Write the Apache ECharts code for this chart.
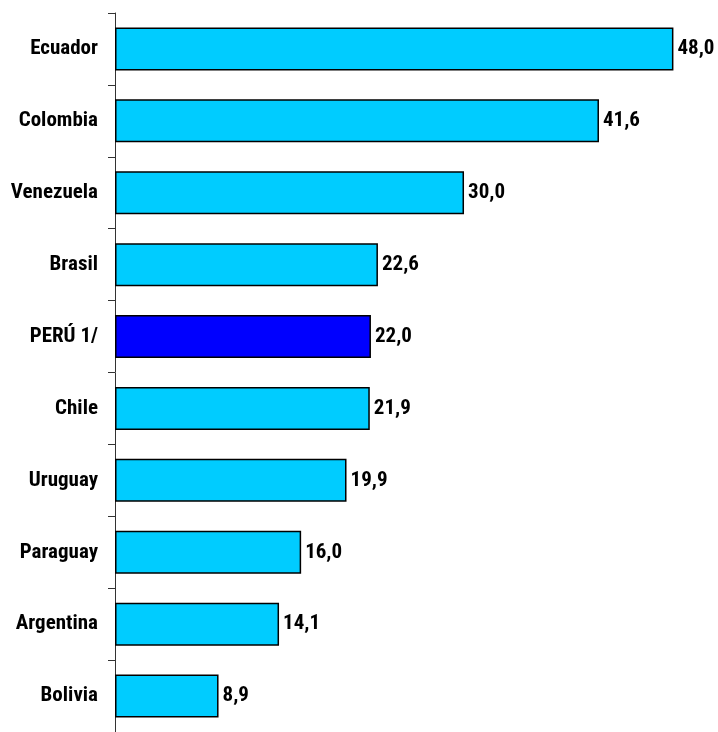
<!DOCTYPE html>
<html>
<head>
<meta charset="utf-8">
<script src="https://cdn.jsdelivr.net/npm/echarts@6/dist/echarts.min.js"></script>
<style>
  html, body { margin: 0; padding: 0; background: #fff; }
  #chart { width: 718px; height: 732px; }
</style>
</head>
<body>
<div id="chart"></div>
<script>
const countries = ['Ecuador', 'Colombia', 'Venezuela', 'Brasil', 'PERÚ 1/', 'Chile', 'Uruguay', 'Paraguay', 'Argentina', 'Bolivia']
const values = [48.0, 41.6, 30.0, 22.6, 22.0, 21.9, 19.9, 16.0, 14.1, 8.9]
const highlight = 'PERÚ 1/'

const font = "'Roboto Condensed', 'Liberation Sans Narrow', Arial, sans-serif"

const chart = echarts.init(document.getElementById('chart'))

const option = {
    animation: false,
    grid: {
        left: 115,
        top: 13,
        bottom: -7,
        width: 581.7,
        containLabel: false
    },
    xAxis: {
        type: 'value',
        min: 0,
        max: 50,
        show: false
    },
    yAxis: {
        type: 'category',
        inverse: true,
        data: countries,
        axisLine: { lineStyle: { color: '#333', width: 1 } },
        axisTick: { show: true, length: 7, lineStyle: { color: '#333' } },
        axisLabel: {
            margin: 17,
            color: '#000',
            fontFamily: font,
            fontWeight: 'bold',
            fontSize: 21,
            padding: [5, 0, 0, 0]
        }
    },
    series: [{
        type: 'bar',
        barWidth: 43,
        data: values.map((v, i) => ({
            value: v,
            itemStyle: { color: countries[i] === highlight ? '#0000FF' : '#00CCFF' }
        })),
        itemStyle: { borderColor: '#000', borderWidth: 1.5 },
        label: {
            show: true,
            position: 'right',
            distance: 4,
            color: '#000',
            fontFamily: font,
            fontWeight: 'bold',
            fontSize: 21,
            padding: [6, 0, 0, 0],
            formatter: p => p.value.toFixed(1).replace('.', ',')
        }
    }]
}

chart.setOption(option)
</script>
</body>
</html>
